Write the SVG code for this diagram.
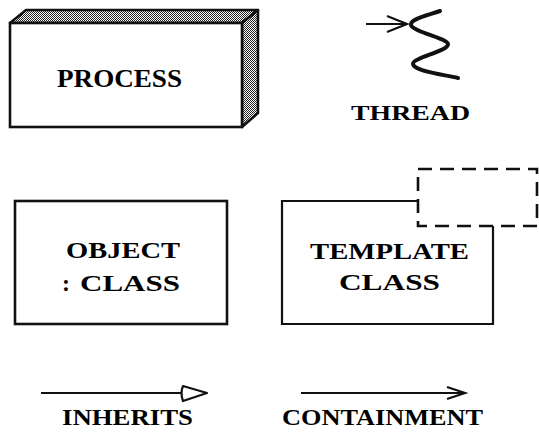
<svg xmlns="http://www.w3.org/2000/svg" width="539" height="439" viewBox="0 0 539 439">
<style>
.t{font-family:"Liberation Serif","Times New Roman",serif;font-weight:bold;fill:#000;font-size:23px}
.b{fill:#fff;stroke:#111;stroke-width:2.6}
.ln{stroke:#111;stroke-width:2.2;fill:none}
</style>
<defs>
<pattern id="chk" width="2" height="2" patternUnits="userSpaceOnUse">
<rect width="2" height="2" fill="#fff"/>
<rect width="1" height="1" fill="#222"/>
<rect x="1" y="1" width="1" height="1" fill="#222"/>
</pattern>
</defs>
<rect width="539" height="439" fill="#fff"/>
<g id="process">
<polygon points="10,23 26,10 258,10 242,23" fill="url(#chk)" stroke="#111" stroke-width="2.5" stroke-linejoin="round"/>
<polygon points="242,23 258,10 258,113 242,127" fill="url(#chk)" stroke="#111" stroke-width="2.5" stroke-linejoin="round"/>
<rect class="b" x="10" y="23" width="232" height="104"/>
<text class="t" x="57" y="87" style="font-size:26px" textLength="125" lengthAdjust="spacingAndGlyphs">PROCESS</text>
</g>
<g id="thread">
<line class="ln" x1="366" y1="24" x2="406" y2="24"/>
<path class="ln" d="M387,16 L407,24 L387,32" stroke-width="1.8"/>
<path d="M440,11 C425,16 410,19 411,25 C413,32 447,38 448,44 C449,51 412,58 413,64 C414,71 440,74 458,78" fill="none" stroke="#111" stroke-width="4" stroke-linecap="round"/>
<text class="t" x="351" y="120" style="font-size:22px" textLength="119" lengthAdjust="spacingAndGlyphs">THREAD</text>
</g>
<g id="object">
<rect class="b" x="15" y="201" width="212" height="123"/>
<text class="t" x="66" y="258" style="font-size:24px" textLength="114" lengthAdjust="spacingAndGlyphs">OBJECT</text>
<text class="t" x="62" y="291" style="font-size:24px">:</text>
<text class="t" x="80" y="291" style="font-size:24px" textLength="100" lengthAdjust="spacingAndGlyphs">CLASS</text>
</g>
<g id="template">
<path class="ln" d="M418,201 L282,201 L282,324 L493,324 L493,226" stroke-width="2.6"/>
<rect x="418" y="169" width="119" height="57" fill="none" stroke="#111" stroke-width="2.6" stroke-dasharray="14,8"/>
<text class="t" x="310" y="259" style="font-size:24px" textLength="159" lengthAdjust="spacingAndGlyphs">TEMPLATE</text>
<text class="t" x="339" y="290" style="font-size:24px" textLength="101" lengthAdjust="spacingAndGlyphs">CLASS</text>
</g>
<g id="connectors">
<line class="ln" x1="41" y1="393" x2="183" y2="393"/>
<path d="M183,386 Q180,393 183,401 L207,393 Z" fill="#fff" stroke="#111" stroke-width="2.2" stroke-linejoin="round"/>
<line class="ln" x1="301" y1="393" x2="464" y2="393"/>
<path class="ln" d="M447,387 L465,393 L447,399"/>
</g>
<g id="labels">
<text class="t" x="62" y="425" textLength="131" lengthAdjust="spacingAndGlyphs">INHERITS</text>
<text class="t" x="282" y="425" textLength="201" lengthAdjust="spacingAndGlyphs">CONTAINMENT</text>
</g>
</svg>
